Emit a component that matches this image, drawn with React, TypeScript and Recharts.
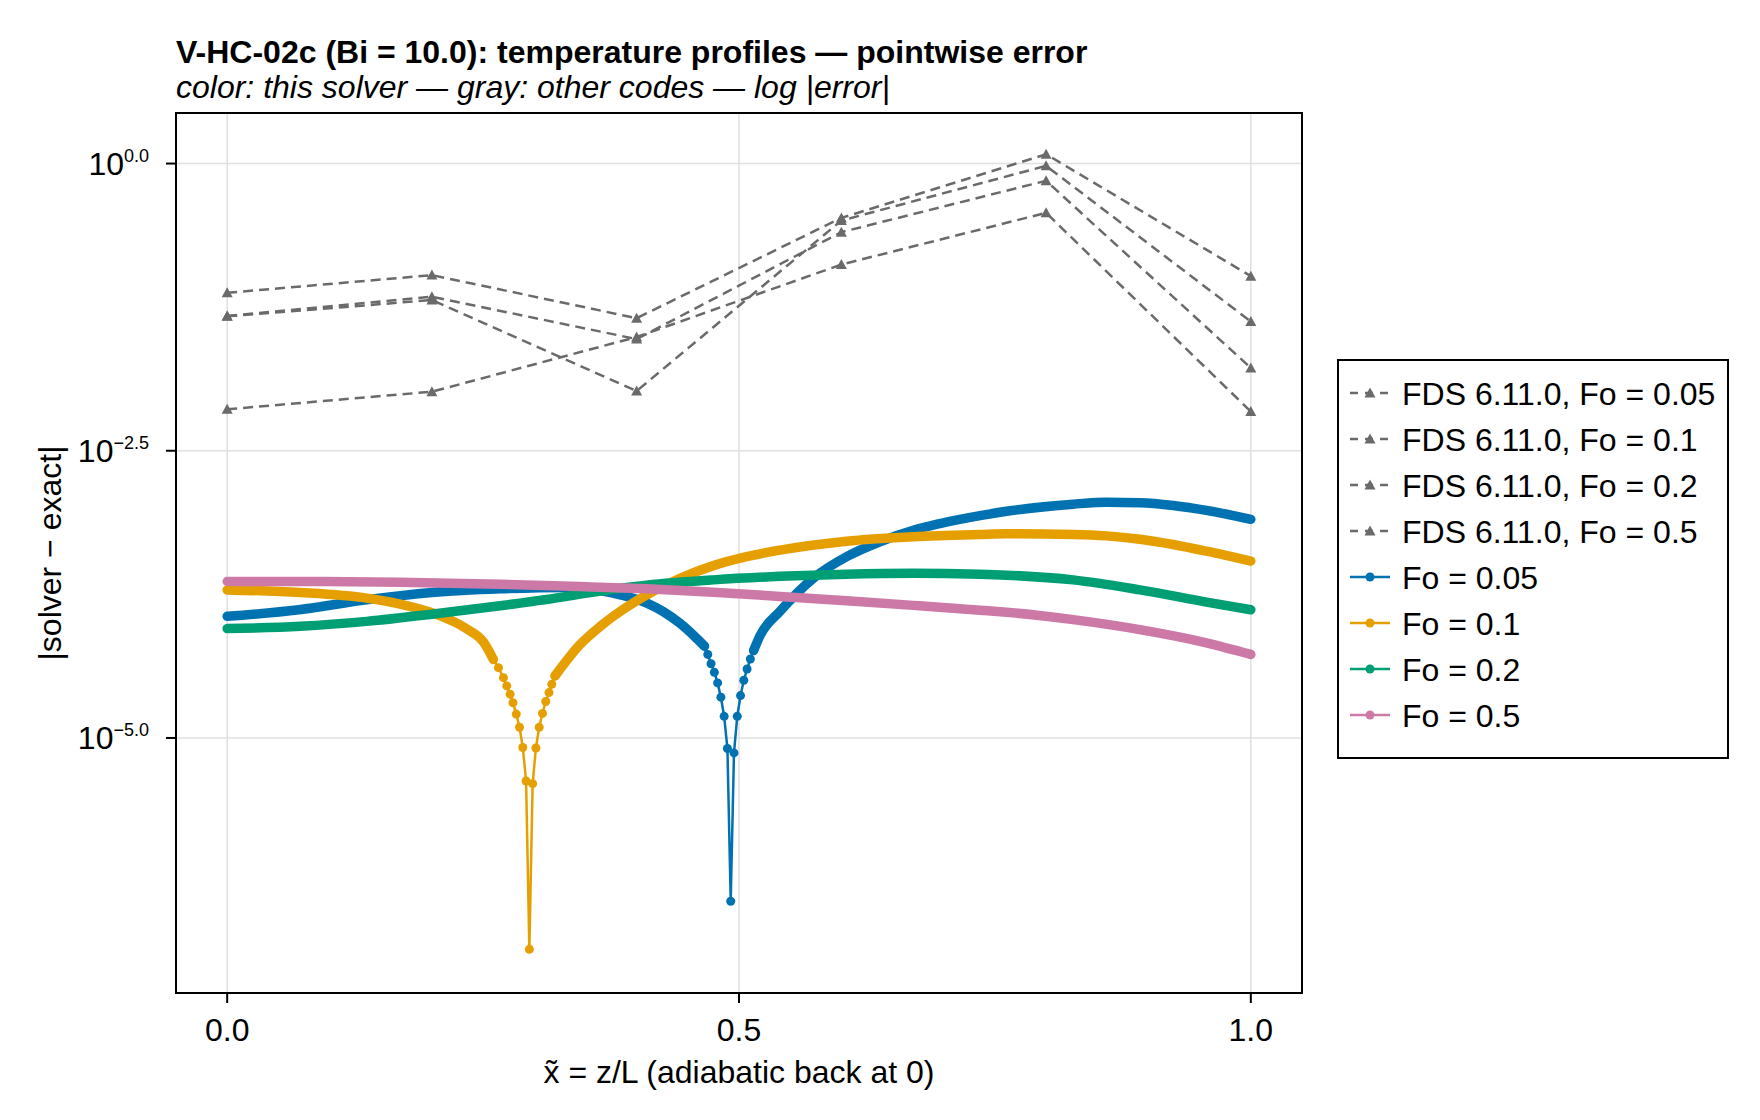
import { CartesianGrid, Line, LineChart, XAxis, YAxis } from "recharts";

const FONT = '"Liberation Sans", Arial, Helvetica, sans-serif';
const GRAY = "#6a6a6a";
const BLUE = "#0072b2";
const ORANGE = "#e69f00";
const GREEN = "#009e73";
const PINK = "#cc79a7";

const W = 1760;
const H = 1120;
// plot box in page pixels
const PLOT = { left: 176, top: 113, right: 1302, bottom: 993 };

const X_DOMAIN: [number, number] = [-0.05, 1.05];
const Y_DOMAIN: [number, number] = [10 ** -7.22, 10 ** 0.44];
const xTicks = [0, 0.5, 1];
const yTicks = [1e-5, 10 ** -2.5, 1];

// FDS 6.11.0 samples at six depths, log10 |solver - exact|
const fdsX = [0, 0.2, 0.4, 0.6, 0.8, 1.0];
const fdsFo005 = [-1.125, -0.971, -1.346, -0.473, 0.081, -0.98];
const fdsFo01 = [-1.326, -1.159, -1.528, -0.597, -0.15, -1.779];
const fdsFo02 = [-1.33, -1.188, -1.98, -0.496, -0.02, -1.375];
const fdsFo05 = [-2.139, -1.986, -1.51, -0.879, -0.429, -2.159];

// this solver, [x, log10 |error|]; the sign change of the error gives the cusps
const fo005Left: [number, number][] = [
  [0, -3.941], [0.07, -3.884], [0.136, -3.797], [0.2, -3.734], [0.267, -3.702],
  [0.332, -3.69], [0.35, -3.7], [0.377, -3.74], [0.41, -3.826], [0.426, -3.9],
  [0.442, -4.0], [0.456, -4.11], [0.4663, -4.201],
];
const fo005Cusp: [number, number][] = [
  [0.4663, -4.201], [0.4695, -4.273], [0.4727, -4.354], [0.4759, -4.429], [0.4791, -4.521],
  [0.4823, -4.645], [0.4855, -4.812], [0.4887, -5.092], [0.4919, -6.421], [0.4951, -5.13],
  [0.4983, -4.812], [0.5015, -4.631], [0.5047, -4.498], [0.5079, -4.4], [0.5111, -4.313],
  [0.5143, -4.239],
];
const fo005Right: [number, number][] = [
  [0.5143, -4.239], [0.5205, -4.11], [0.54, -3.898], [0.5726, -3.61], [0.6052, -3.422],
  [0.6377, -3.292], [0.6702, -3.192], [0.6963, -3.134], [0.7354, -3.065], [0.7614, -3.027],
  [0.8265, -2.965], [0.8591, -2.948], [0.8916, -2.952], [0.9241, -2.976], [0.9567, -3.019],
  [1.0, -3.097],
];

const fo01Left: [number, number][] = [
  [0, -3.711], [0.0713, -3.734], [0.1364, -3.783], [0.169, -3.835], [0.2015, -3.915],
  [0.234, -4.05], [0.2504, -4.165], [0.26, -4.316],
];
const fo01Cusp: [number, number][] = [
  [0.26, -4.316], [0.265, -4.388], [0.2699, -4.475], [0.2731, -4.547], [0.2764, -4.619],
  [0.2792, -4.694], [0.2824, -4.792], [0.2856, -4.907], [0.2888, -5.083], [0.292, -5.375],
  [0.2952, -6.84], [0.2984, -5.398], [0.3016, -5.087], [0.3048, -4.907], [0.308, -4.786],
  [0.3112, -4.683], [0.3144, -4.605], [0.3171, -4.533], [0.3203, -4.46],
];
const fo01Right: [number, number][] = [
  [0.3203, -4.46], [0.3447, -4.187], [0.3643, -4.03], [0.3772, -3.941], [0.4099, -3.754],
  [0.4424, -3.61], [0.475, -3.5], [0.5075, -3.422], [0.54, -3.365], [0.6052, -3.287],
  [0.6702, -3.249], [0.7354, -3.229], [0.7614, -3.223], [0.8265, -3.229], [0.859, -3.241],
  [0.8916, -3.27], [0.9241, -3.316], [0.9567, -3.374], [1.0, -3.46],
];

const fo02: [number, number][] = [
  [0, -4.048], [0.0713, -4.028], [0.1364, -3.985], [0.2015, -3.921], [0.2666, -3.849],
  [0.3317, -3.768], [0.3447, -3.748], [0.4099, -3.67], [0.475, -3.624], [0.54, -3.593],
  [0.6052, -3.574], [0.6702, -3.567], [0.7354, -3.575], [0.7614, -3.583], [0.8265, -3.624],
  [0.8916, -3.711], [0.9567, -3.817], [1.0, -3.884],
];

const fo05: [number, number][] = [
  [0, -3.638], [0.0713, -3.638], [0.169, -3.644], [0.2666, -3.662], [0.3447, -3.682],
  [0.4099, -3.702], [0.475, -3.731], [0.54, -3.768], [0.6052, -3.806], [0.6702, -3.846],
  [0.7354, -3.888], [0.7614, -3.906], [0.8265, -3.97], [0.8916, -4.057], [0.9567, -4.172],
  [1.0, -4.273],
];

const fromLog = (rows: [number, number][]) => rows.map(([x, e]) => ({ x, y: 10 ** e }));
const fdsRows = (vals: number[]) => fdsX.map((x, i) => ({ x, y: 10 ** vals[i] }));

const fdsSeries = [
  { name: "FDS 6.11.0, Fo = 0.05", data: fdsRows(fdsFo005) },
  { name: "FDS 6.11.0, Fo = 0.1", data: fdsRows(fdsFo01) },
  { name: "FDS 6.11.0, Fo = 0.2", data: fdsRows(fdsFo02) },
  { name: "FDS 6.11.0, Fo = 0.5", data: fdsRows(fdsFo05) },
];

// each curve: smooth parts drawn as a thick band, cusps as separate markers
const solverSeries = [
  { name: "Fo = 0.05", color: BLUE, bands: [fo005Left, fo005Right], cusp: fo005Cusp },
  { name: "Fo = 0.1", color: ORANGE, bands: [fo01Left, fo01Right], cusp: fo01Cusp },
  { name: "Fo = 0.2", color: GREEN, bands: [fo02], cusp: null },
  { name: "Fo = 0.5", color: PINK, bands: [fo05], cusp: null },
];

const legendRows = [
  ...fdsSeries.map((s) => ({ name: s.name, color: GRAY, fds: true })),
  ...solverSeries.map((s) => ({ name: s.name, color: s.color, fds: false })),
];

function Triangle(props: any) {
  const { cx, cy } = props;
  if (cx == null || cy == null) return null;
  return (
    <path
      key={`t-${cx}-${cy}`}
      d={`M${cx},${cy - 5.5} L${cx + 5.5},${cy + 4.5} L${cx - 5.5},${cy + 4.5} Z`}
      fill={GRAY}
    />
  );
}

function YTick({ x, y, payload }: any) {
  const e = Math.log10(payload.value);
  const exp = (e < -1e-9 ? "\u2212" : "") + Math.abs(e).toFixed(1);
  return (
    <text x={x} y={y} textAnchor="end" fontFamily={FONT} fill="#000">
      <tspan fontSize={32} dy={11}>10</tspan>
      <tspan fontSize={18} dy={-13}>{exp}</tspan>
    </text>
  );
}

function XTick({ x, y, payload }: any) {
  return (
    <text x={x} y={y + 38} textAnchor="middle" fontFamily={FONT} fontSize={32} fill="#000">
      {Number(payload.value).toFixed(1)}
    </text>
  );
}

function Overlay() {
  const rowY = (i: number) => 393 + i * 46;
  return (
    <svg
      width={W}
      height={H}
      style={{ position: "absolute", left: 0, top: 0, pointerEvents: "none" }}
      fontFamily={FONT}
    >
      <rect
        x={PLOT.left}
        y={PLOT.top}
        width={PLOT.right - PLOT.left}
        height={PLOT.bottom - PLOT.top}
        fill="none"
        stroke="#000"
        strokeWidth={2}
      />
      <text x={176} y={63} fontSize={32} fontWeight="bold">
        V-HC-02c (Bi = 10.0): temperature profiles — pointwise error
      </text>
      <text x={176} y={98} fontSize={32} fontStyle="italic">
        color: this solver — gray: other codes — log |error|
      </text>
      <text x={739} y={1083} fontSize={32} textAnchor="middle">
        {"x\u0303 = z/L (adiabatic back at 0)"}
      </text>
      <text transform="translate(61, 553) rotate(-90)" fontSize={32} textAnchor="middle">
        |solver − exact|
      </text>

      <rect x={1338} y={360} width={390} height={398} fill="#fff" stroke="#000" strokeWidth={2} />
      {legendRows.map((r, i) => {
        const cy = rowY(i);
        return (
          <g key={r.name}>
            {r.fds ? (
              <>
                <line x1={1350} x2={1390} y1={cy} y2={cy} stroke={GRAY} strokeWidth={2.5} strokeDasharray="8 7" />
                <path d={`M1370,${cy - 5.5} L1375.5,${cy + 4.5} L1364.5,${cy + 4.5} Z`} fill={GRAY} />
              </>
            ) : (
              <>
                <line x1={1350} x2={1390} y1={cy} y2={cy} stroke={r.color} strokeWidth={2.5} />
                <circle cx={1370} cy={cy} r={4.5} fill={r.color} />
              </>
            )}
            <text x={1402} y={cy + 11.5} fontSize={32}>
              {r.name}
            </text>
          </g>
        );
      })}
    </svg>
  );
}

export default function App() {
  return (
    <div style={{ position: "absolute", left: 0, top: 0, width: W, height: H, background: "#fff" }}>
      <LineChart
        width={W}
        height={H}
        margin={{ top: PLOT.top, right: W - PLOT.right, bottom: H - PLOT.bottom - 60, left: PLOT.left - 100 }}
        style={{ position: "absolute", left: 0, top: 0 }}
      >
        <CartesianGrid stroke="#e0e0e0" strokeWidth={1.5} />
        <XAxis
          dataKey="x"
          type="number"
          domain={X_DOMAIN}
          ticks={xTicks}
          allowDataOverflow
          height={60}
          tickSize={10}
          tickMargin={0}
          axisLine={false}
          tickLine={{ stroke: "#000", strokeWidth: 2 }}
          tick={<XTick />}
        />
        <YAxis
          type="number"
          scale="log"
          domain={Y_DOMAIN}
          ticks={yTicks}
          allowDataOverflow
          width={100}
          tickSize={10}
          tickMargin={17}
          axisLine={false}
          tickLine={{ stroke: "#000", strokeWidth: 2 }}
          tick={<YTick />}
        />
        {fdsSeries.map((s) => (
          <Line
            key={s.name}
            name={s.name}
            data={s.data}
            dataKey="y"
            type="linear"
            stroke={GRAY}
            strokeWidth={2.5}
            strokeDasharray="10 6"
            dot={<Triangle />}
            activeDot={false}
            isAnimationActive={false}
          />
        ))}
        {solverSeries.map((s) => [
          ...s.bands.map((b, j) => (
            <Line
              key={`${s.name}-band-${j}`}
              data={fromLog(b)}
              dataKey="y"
              type="monotone"
              stroke={s.color}
              strokeWidth={9.5}
              strokeLinecap="round"
              strokeLinejoin="round"
              dot={false}
              activeDot={false}
              isAnimationActive={false}
            />
          )),
          s.cusp ? (
            <Line
              key={`${s.name}-cusp`}
              data={fromLog(s.cusp)}
              dataKey="y"
              type="linear"
              stroke={s.color}
              strokeWidth={2.5}
              dot={{ r: 4.5, fill: s.color, stroke: s.color, strokeWidth: 0 }}
              activeDot={false}
              isAnimationActive={false}
            />
          ) : null,
        ])}
      </LineChart>
      <Overlay />
    </div>
  );
}
